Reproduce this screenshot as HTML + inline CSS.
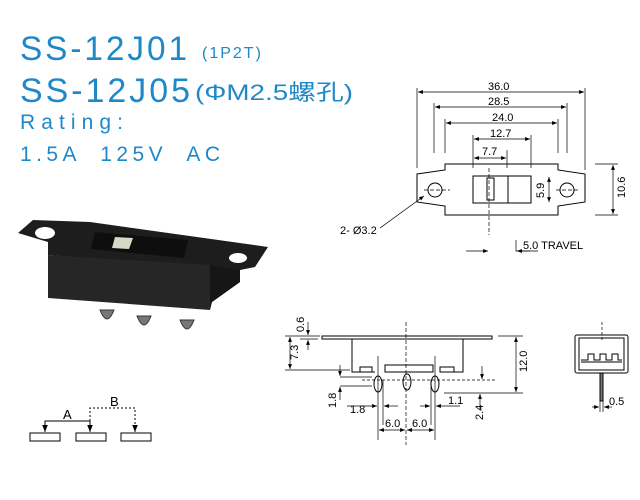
<!DOCTYPE html>
<html><head><meta charset="utf-8"><style>
html,body{margin:0;padding:0;background:#fff}
svg{display:block}
.t{fill:#1e88c8;font-family:"Liberation Sans","Noto Sans CJK SC",sans-serif}
.d{font-family:"Liberation Sans",sans-serif;font-size:11px;fill:#000}
</style></head><body>
<svg width="640" height="500" viewBox="0 0 640 500" xmlns="http://www.w3.org/2000/svg">
<defs>
<marker id="a" viewBox="0 0 10 10" refX="10" refY="5" markerWidth="7" markerHeight="7" orient="auto-start-reverse"><path d="M0,1 L10,5 L0,9z" fill="#000"/></marker>
</defs>
<text class="t" x="20" y="60" font-size="34" letter-spacing="3" textLength="170" lengthAdjust="spacingAndGlyphs">SS-12J01</text>
<text class="t" x="202" y="58" font-size="16" letter-spacing="2">(1P2T)</text>
<text class="t" x="20" y="102" font-size="34" letter-spacing="3" textLength="173" lengthAdjust="spacingAndGlyphs">SS-12J05</text>
<text class="t" x="195" y="100" font-size="22" textLength="158" lengthAdjust="spacingAndGlyphs">(ΦM2.5螺孔)</text>
<text class="t" x="20" y="129" font-size="21" textLength="103" lengthAdjust="spacing">Rating:</text>
<text class="t" x="20" y="161" font-size="21" textLength="200" lengthAdjust="spacing" xml:space="preserve">1.5A  125V  AC</text>

<!-- photo -->
<g>
<polygon points="18,233 33,220 90,222 268,247 255,267 240,270 240,282 212,302 210,268 48,255 48,242" fill="#1d1d1d"/>
<polygon points="48,255 210,265 210,310 48,298" fill="#262626"/>
<polygon points="210,265 240,270 240,282 212,302 210,310" fill="#161616"/>
<ellipse cx="45" cy="233" rx="10" ry="6" fill="#fff"/>
<ellipse cx="238" cy="258" rx="9" ry="5" fill="#fff"/>
<polygon points="95,232 188,240 184,258 91,249" fill="#0e0e0e"/>
<polygon points="115,237 133,238 129,249 112,248" fill="#d8d8c8"/>
<path d="M100,310 q7,18 14,0z M137,316 q7,18 14,0z M180,320 q7,18 14,0z" fill="#777" stroke="#333"/>
</g>

<!-- schematic -->
<g stroke="#000" fill="none">
<rect x="30" y="433" width="30" height="8"/><rect x="76" y="433" width="30" height="8"/><rect x="121" y="433" width="30" height="8"/>
<path d="M90,421 H45 V432" marker-end="url(#a)"/>
<path d="M90,421 V408 H135 V432" stroke-dasharray="2,2" marker-end="url(#a)"/>
<path d="M90,421 V432" marker-end="url(#a)"/>
</g>
<text x="63" y="419" font-family="Liberation Sans" font-size="13">A</text>
<text x="110" y="406" font-family="Liberation Sans" font-size="13">B</text>

<!-- top view -->
<g stroke="#000" fill="none" stroke-width="1">
<polygon points="417,174 445,170 445,164 558,164 558,170 585,174 585,202 558,206 558,215 445,215 445,206 417,202"/>
<circle cx="435" cy="190" r="7"/><circle cx="567" cy="190" r="7"/>
<rect x="473" y="176" width="58" height="27"/><line x1="508" y1="176" x2="508" y2="203"/>
<rect x="487" y="178" width="7" height="22"/>
<g stroke-dasharray="4,2" stroke-width="0.7"><line x1="489" y1="168" x2="489" y2="235"/><line x1="424" y1="190" x2="450" y2="190"/><line x1="556" y1="190" x2="580" y2="190"/></g>
<g stroke-width="0.7">
<line x1="417" y1="88" x2="417" y2="168"/><line x1="585" y1="88" x2="585" y2="170"/>
<line x1="434" y1="103" x2="434" y2="153"/><line x1="567" y1="103" x2="567" y2="153"/>
<line x1="445" y1="119" x2="445" y2="153"/><line x1="558" y1="119" x2="558" y2="153"/>
<line x1="473" y1="135" x2="473" y2="168"/><line x1="531" y1="135" x2="531" y2="168"/>
<line x1="507" y1="150" x2="507" y2="168"/>
<line x1="595" y1="164" x2="618" y2="164"/><line x1="595" y1="215" x2="618" y2="215"/>
<path d="M418,92 H584" marker-start="url(#a)" marker-end="url(#a)"/>
<path d="M435,107 H566" marker-start="url(#a)" marker-end="url(#a)"/>
<path d="M446,123 H557" marker-start="url(#a)" marker-end="url(#a)"/>
<path d="M474,139 H530" marker-start="url(#a)" marker-end="url(#a)"/>
<path d="M474,158 H506" marker-start="url(#a)" marker-end="url(#a)"/>
<path d="M613,165 V214" marker-start="url(#a)" marker-end="url(#a)"/>
<path d="M549,177 V202" marker-start="url(#a)" marker-end="url(#a)"/>
<path d="M380,228 L424,196" marker-end="url(#a)"/>
<path d="M466,251 H488" marker-end="url(#a)"/>
<path d="M516,240 V251 H538"/>
<path d="M530,251 H517" marker-end="url(#a)"/>
</g>
</g>
<text class="d" x="488" y="90">36.0</text>
<text class="d" x="488" y="105">28.5</text>
<text class="d" x="492" y="121">24.0</text>
<text class="d" x="490" y="137">12.7</text>
<text class="d" x="482" y="155">7.7</text>
<text class="d" transform="translate(625,198) rotate(-90)">10.6</text>
<text class="d" transform="translate(544,198) rotate(-90)">5.9</text>
<text class="d" x="340" y="234">2- Ø3.2</text>
<text class="d" x="523" y="249" font-size="10">5.0  TRAVEL</text>

<!-- side view -->
<g stroke="#000" fill="none" stroke-width="1">
<rect x="322" y="336" width="170" height="3"/>
<path d="M352,339 V372 H375 M385,372 H404 M410,372 H432 M440,372 H463 V339"/>
<rect x="360" y="367" width="12" height="5"/><rect x="385" y="365" width="48" height="7"/><rect x="440" y="367" width="14" height="5"/>
<ellipse cx="378" cy="384" rx="4" ry="8"/><ellipse cx="407" cy="382" rx="4" ry="8"/><ellipse cx="435" cy="384" rx="4" ry="8"/>
<g stroke-width="0.7">
<line x1="378" y1="356" x2="378" y2="440"/><line x1="435" y1="356" x2="435" y2="440"/><line x1="383" y1="380" x2="383" y2="425"/><line x1="431" y1="380" x2="431" y2="425"/>
<line x1="406" y1="322" x2="406" y2="445" stroke-dasharray="4,2"/>
<line x1="362" y1="380" x2="495" y2="380" stroke-dasharray="3,2"/>
<line x1="285" y1="336" x2="320" y2="336"/><line x1="285" y1="370" x2="350" y2="370"/>
<line x1="300" y1="339" x2="318" y2="339"/>
<line x1="340" y1="377" x2="372" y2="377"/><line x1="340" y1="386" x2="372" y2="386"/>
<line x1="498" y1="336" x2="523" y2="336"/><line x1="444" y1="393" x2="523" y2="393"/>
<path d="M290,337 V369" marker-start="url(#a)" marker-end="url(#a)"/>
<path d="M308,322 V335" marker-end="url(#a)"/>
<path d="M308,350 V340" marker-end="url(#a)"/>
<path d="M340,365 V376" marker-end="url(#a)"/>
<path d="M340,400 V387" marker-end="url(#a)"/>
<path d="M516,337 V392" marker-start="url(#a)" marker-end="url(#a)"/>
<path d="M482,366 V379" marker-end="url(#a)"/>
<path d="M480,410 V394" marker-end="url(#a)"/>
<path d="M347,406 H377" marker-end="url(#a)"/>
<path d="M398,406 H384" marker-end="url(#a)"/>
<path d="M420,406 H430" marker-end="url(#a)"/>
<path d="M460,406 H436" marker-end="url(#a)"/>
<path d="M379,430 H405" marker-start="url(#a)" marker-end="url(#a)"/>
<path d="M407,430 H434" marker-start="url(#a)" marker-end="url(#a)"/>
</g>
</g>
<text class="d" transform="translate(298,360) rotate(-90)">7.3</text>
<text class="d" transform="translate(304,332) rotate(-90)">0.6</text>
<text class="d" transform="translate(527,372) rotate(-90)">12.0</text>
<text class="d" transform="translate(336,408) rotate(-90)">1.8</text>
<text class="d" transform="translate(483,420) rotate(-90)">2.4</text>
<text class="d" x="350" y="413">1.8</text>
<text class="d" x="448" y="404">1.1</text>
<text class="d" x="385" y="427">6.0</text>
<text class="d" x="412" y="427">6.0</text>

<!-- end view -->
<g stroke="#000" fill="none">
<rect x="575" y="335" width="53" height="38" rx="2"/>
<rect x="579" y="338" width="45" height="32"/>
<path d="M581,360 H588 V354 H594 V360 H600 V354 H606 V360 H612 V354 H618 V360 H622"/>
<line x1="581" y1="362" x2="622" y2="362"/>
<rect x="600" y="373" width="3" height="28" fill="#777"/>
<line x1="602" y1="322" x2="602" y2="340" stroke-dasharray="3,2" stroke-width="0.7"/>
<g stroke-width="0.7"><line x1="600" y1="400" x2="600" y2="412"/><line x1="603" y1="400" x2="603" y2="412"/>
<path d="M592,407 H599" marker-end="url(#a)"/><path d="M612,407 H604" marker-end="url(#a)"/></g>
</g>
<text class="d" x="609" y="405">0.5</text>
</svg>
</body></html>
